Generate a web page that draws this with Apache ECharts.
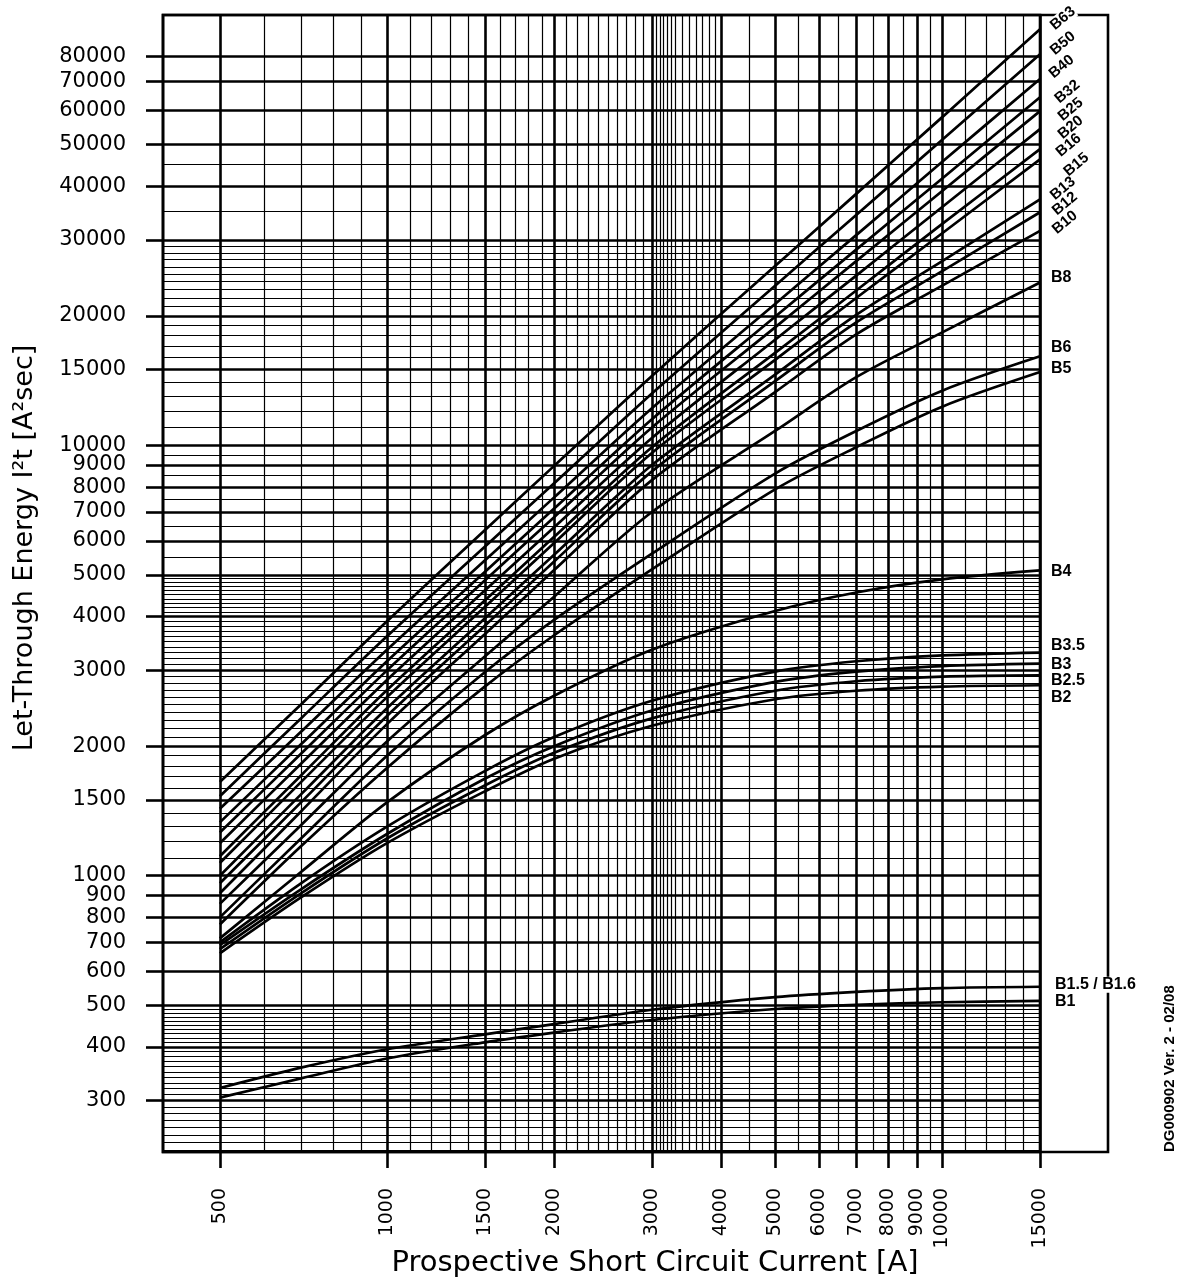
<!DOCTYPE html>
<html>
<head>
<meta charset="UTF-8">
<title>Let-Through Energy B curve</title>
<script src="https://cdn.jsdelivr.net/npm/echarts@6/dist/echarts.min.js"></script>
<style>
  html, body { margin: 0; padding: 0; background: #fff; }
  #chart { width: 1178px; height: 1280px; }
</style>
</head>
<body>
<div id="chart"></div>
<script>
// prospective short circuit current [A] where each curve was read
var current = [500, 700, 1000, 1500, 2000, 3000, 5000, 7000, 10000, 15000];

// let-through energy I2t [A2s]
var B63  = [1650, 2500, 3900, 6350, 8960, 14500, 26100, 38400, 57900, 92700];
var B50  = [1530, 2320, 3600, 5810, 8160, 13200, 23500, 34300, 51300, 81100];
var B40  = [1430, 2160, 3350, 5400, 7570, 12200, 21300, 30800, 45600, 71000];
var B32  = [1330, 2020, 3150, 5080, 7130, 11500, 19900, 28500, 41700, 64400];
var B25  = [1260, 1920, 3000, 4850, 6810, 11000, 18800, 26800, 39000, 59800];
var B20  = [1190, 1820, 2850, 4600, 6450, 10400, 17600, 24800, 35800, 54300];
var B16  = [1110, 1710, 2700, 4360, 6130, 9900, 16400, 22900, 32700, 48800];
var B15  = [1070, 1650, 2600, 4210, 5930, 9600, 15800, 22000, 31100, 46200];
var B13  = [1000, 1545, 2450, 3960, 5570, 9000, 14600, 20100, 26800, 37300];
var B12  = [960, 1480, 2350, 3810, 5370, 8700, 14100, 19300, 25400, 34800];
var B10  = [910, 1410, 2250, 3640, 5130, 8300, 13300, 18100, 23500, 31500];
var B8   = [860, 1310, 2050, 3230, 4450, 7000, 10800, 14400, 18300, 23900];
var B6   = [800, 1220, 1900, 2970, 3930, 5600, 8600, 10800, 13400, 16100];
var B5   = [770, 1170, 1780, 2750, 3620, 5150, 7900, 9900, 12300, 14800];
var B4   = [715, 1020, 1480, 2120, 2620, 3350, 4120, 4550, 4880, 5120];
var B3_5 = [700, 960, 1300, 1750, 2100, 2550, 2980, 3150, 3250, 3300];
var B3   = [690, 930, 1250, 1680, 2000, 2420, 2820, 2980, 3070, 3110];
var B2_5 = [675, 910, 1220, 1620, 1930, 2320, 2690, 2830, 2900, 2920];
var B2   = [660, 890, 1190, 1570, 1870, 2230, 2570, 2690, 2750, 2770];
var B1_5 = [321, 358, 395, 428, 452, 488, 522, 537, 548, 552];
var B1   = [305, 338, 376, 410, 432, 462, 490, 501, 508, 512];

// labelled tick values
var xTicks = [500, 1000, 1500, 2000, 3000, 4000, 5000, 6000, 7000, 8000, 9000, 10000, 15000];
var yTicks = [300, 400, 500, 600, 700, 800, 900, 1000, 1500, 2000, 3000, 4000, 5000, 6000,
              7000, 8000, 9000, 10000, 15000, 20000, 30000, 40000, 50000, 60000, 70000, 80000];

// fine grid of the log paper
var xMinor = [600, 700, 800, 900, 1100, 1200, 1300, 1400, 1600, 1700, 1800, 1900,
              2100, 2200, 2300, 2400, 2500, 2600, 2700, 2800, 2900,
              3050, 3100, 3150, 3200, 3250, 3300, 3400, 3500, 3600, 3700, 3800, 3900,
              4500, 5500, 6500, 7500, 8500, 9500, 11000, 12000, 13000, 14000];
var yMinor = [230, 240, 250, 260, 270, 280, 290, 310, 320, 330, 340, 350, 360, 370, 380, 390,
              410, 420, 430, 440, 450, 460, 470, 480, 490,
              1100, 1200, 1300, 1400, 1600, 1700, 1800, 1900,
              2100, 2200, 2300, 2400, 2500, 2600, 2700, 2800, 2900,
              3100, 3200, 3300, 3400, 3500, 3600, 3700, 3800, 3900,
              4100, 4200, 4300, 4400, 4500, 4600, 4700, 4800, 4900,
              5500, 6500, 7500, 8500, 9500, 11000, 12000, 13000, 14000,
              16000, 17000, 18000, 19000, 21000, 22000, 23000, 24000, 25000, 26000, 27000, 28000, 29000,
              35000, 45000];

var curves = [
  ['B63', B63], ['B50', B50], ['B40', B40], ['B32', B32], ['B25', B25], ['B20', B20],
  ['B16', B16], ['B15', B15], ['B13', B13], ['B12', B12], ['B10', B10], ['B8', B8],
  ['B6', B6], ['B5', B5], ['B4', B4], ['B3.5', B3_5], ['B3', B3], ['B2.5', B2_5],
  ['B2', B2], ['B1.5 / B1.6', B1_5], ['B1', B1]
];

// where the end labels sit (tilt and nudge)
var tag = {
  'B63': { rot: 40, dy: 5, bg: true }, 'B50': { rot: 40, dy: 5 }, 'B40': { rot: 40, dy: 3 },
  'B32': { rot: 40, dy: 12 }, 'B25': { rot: 40, dy: 17 }, 'B20': { rot: 40, dy: 17 },
  'B16': { rot: 40, dy: 14 }, 'B15': { rot: 40, dy: 26 }, 'B13': { rot: 40, dy: 5 },
  'B12': { rot: 40, dy: 8 }, 'B10': { rot: 40, dy: 8 },
  'B8': { dy: -5 }, 'B6': { dy: -9 }, 'B5': { dy: -3 }, 'B4': { dy: 1 },
  'B3.5': { dy: -7 }, 'B3': { dy: 1 }, 'B2.5': { dy: 5 }, 'B2': { dy: 12 },
  'B1.5 / B1.6': { dy: -2, dx: 4, bg: true }, 'B1': { dy: 1, dx: 4 }
};

var chart = echarts.init(document.getElementById('chart'), null, { renderer: 'canvas' });

function plain(v) { return String(Math.round(v)); }

var numFont = 'DejaVu Sans';
var ink = '#000';

var option = {
  animation: false,
  backgroundColor: '#fff',
  grid: {
    left: 163, top: 15, width: 877, height: 1137,
    show: true, borderColor: ink, borderWidth: 2.6, backgroundColor: 'transparent'
  },
  xAxis: [{
    type: 'log', logBase: 10, min: 395, max: 15000, position: 'bottom',
    axisLine: { show: false },
    axisTick: { show: true, customValues: xTicks, length: 16, lineStyle: { color: ink, width: 2.6 } },
    axisLabel: { customValues: xTicks, rotate: 90, margin: 36, fontSize: 19, fontFamily: numFont,
                 color: ink, formatter: plain },
    splitLine: { show: true, lineStyle: { color: ink, width: 2.6 } },
    minorTick: { show: false }, minorSplitLine: { show: false }
  }, {
    type: 'log', logBase: 10, min: 395, max: 15000, position: 'bottom',
    axisLine: { show: false },
    axisTick: { show: false, customValues: xMinor },
    axisLabel: { show: false },
    splitLine: { show: true, lineStyle: { color: ink, width: 1.2 } }
  }],
  yAxis: [{
    type: 'log', logBase: 10, min: 228, max: 100000, position: 'left',
    axisLine: { show: false },
    axisTick: { show: true, customValues: yTicks, length: 17, lineStyle: { color: ink, width: 2.6 } },
    axisLabel: { customValues: yTicks, margin: 37, fontSize: 21, fontFamily: numFont,
                 color: ink, formatter: plain },
    splitLine: { show: true, lineStyle: { color: ink, width: 2.6 } },
    minorTick: { show: false }, minorSplitLine: { show: false }
  }, {
    type: 'log', logBase: 10, min: 228, max: 100000, position: 'left',
    axisLine: { show: false },
    axisTick: { show: false, customValues: yMinor },
    axisLabel: { show: false },
    splitLine: { show: true, lineStyle: { color: ink, width: 1.2 } }
  }],
  graphic: [
    { type: 'rect', z: 1, shape: { x: 163, y: 15, width: 945, height: 1137 },
      style: { fill: 'none', stroke: ink, lineWidth: 2.6 } },
    { type: 'text', x: 655, y: 1263,
      style: { text: 'Prospective Short Circuit Current [A]', fontSize: 29, fontFamily: numFont,
               fill: ink, align: 'center', verticalAlign: 'middle' } },
    { type: 'text', x: 25, y: 548, rotation: Math.PI / 2,
      style: { text: 'Let-Through Energy I\u00b2t [A\u00b2sec]', fontSize: 27, fontFamily: numFont,
               fill: ink, align: 'center', verticalAlign: 'middle' } },
    { type: 'text', x: 1170, y: 1152, rotation: Math.PI / 2,
      style: { text: 'DG000902 Ver. 2 - 02/08', fontSize: 15, fontWeight: 'bold',
               fontFamily: 'Liberation Sans', fill: ink, align: 'left', verticalAlign: 'middle' } }
  ],
  series: curves.map(function (c) {
    var name = c[0], vals = c[1], t = tag[name];
    return {
      name: name,
      type: 'line',
      xAxisIndex: 0,
      yAxisIndex: 0,
      data: current.map(function (x, i) { return [x, vals[i]]; }),
      smooth: 0.3,
      symbol: 'circle',
      symbolSize: 0,
      showSymbol: true,
      silent: true,
      z: 3,
      lineStyle: { color: ink, width: 2.7 },
      itemStyle: { color: ink },
      label: {
        show: true,
        position: 'right',
        distance: t.rot ? 14 : 11 + (t.dx || 0),
        rotate: t.rot || 0,
        align: 'left',
        verticalAlign: t.rot ? 'bottom' : 'middle',
        offset: [0, t.dy],
        color: ink,
        fontFamily: 'Liberation Sans',
        fontWeight: 'bold',
        fontSize: t.rot ? 15 : 16,
        backgroundColor: t.bg ? '#fff' : 'transparent',
        formatter: function (p) { return p.dataIndex === vals.length - 1 ? name : ''; }
      },
      emphasis: { disabled: true }
    };
  })
};

chart.setOption(option);
</script>
</body>
</html>
